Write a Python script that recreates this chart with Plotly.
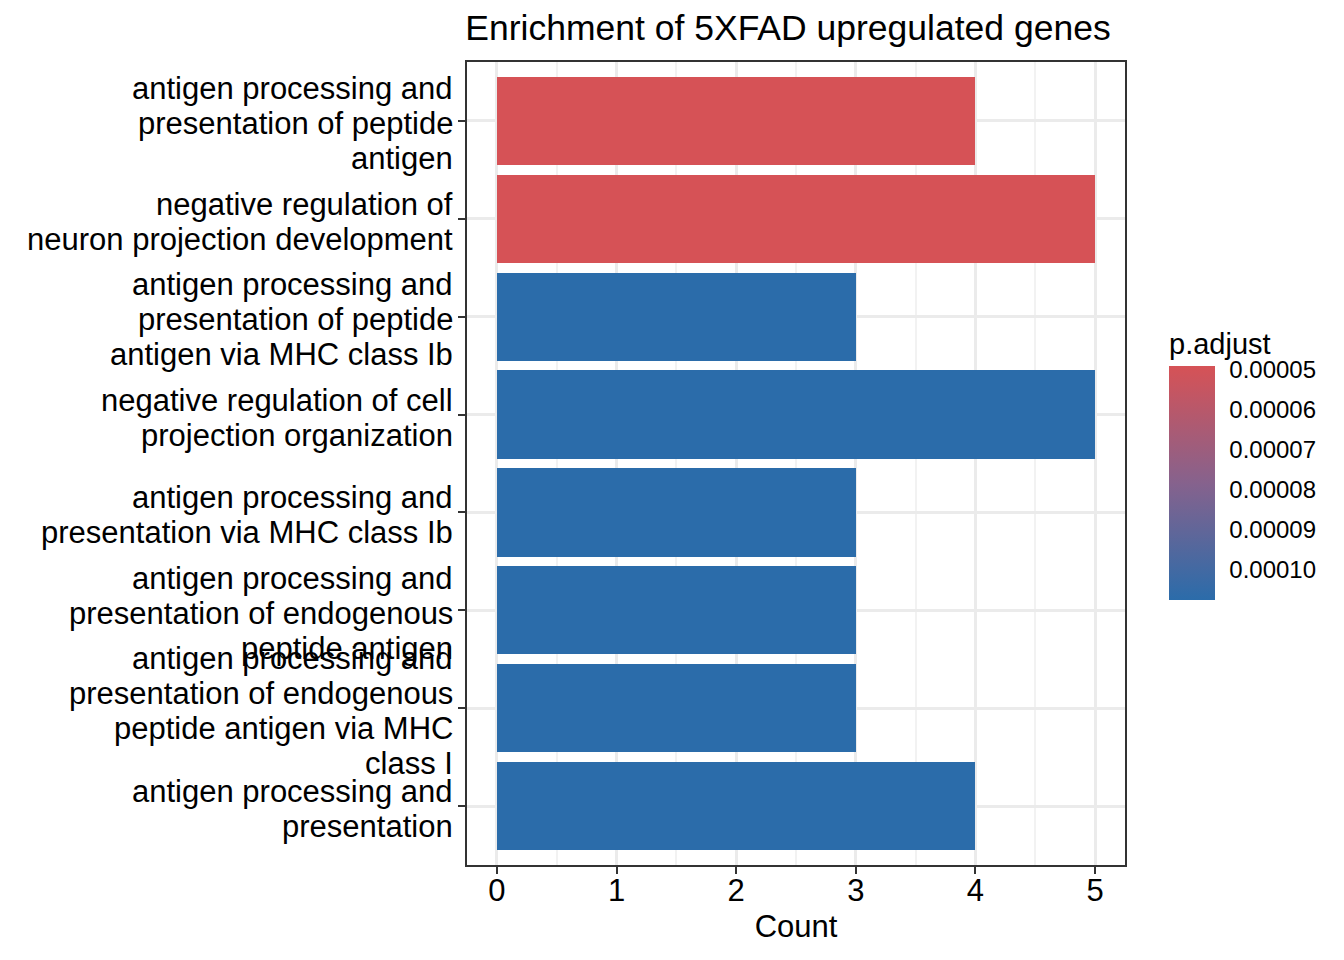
import plotly.graph_objects as go

# Data (bottom -> top order as drawn)
terms = [
    "antigen processing and\npresentation",
    "antigen processing and\npresentation of endogenous\npeptide antigen via MHC\nclass I",
    "antigen processing and\npresentation of endogenous\npeptide antigen",
    "antigen processing and\npresentation via MHC class Ib",
    "negative regulation of cell\nprojection organization",
    "antigen processing and\npresentation of peptide\nantigen via MHC class Ib",
    "negative regulation of\nneuron projection development",
    "antigen processing and\npresentation of peptide\nantigen",
]
counts = [4, 3, 3, 3, 5, 3, 5, 4]
p_adjust = [1.076e-4, 1.076e-4, 1.076e-4, 1.076e-4, 1.076e-4, 1.076e-4, 4.9e-5, 4.9e-5]
cbar_ticks = [5e-5, 6e-5, 7e-5, 8e-5, 9e-5, 1e-4]

FONT = "Liberation Sans, Arial, Helvetica, sans-serif"
idx = list(range(len(terms)))

# colour scale reversed like ggplot legend: small p (red) on top
neg_p = [-v for v in p_adjust]

fig = go.Figure()
fig.add_trace(go.Bar(
    x=counts, y=idx, orientation="h", width=0.9,
    marker=dict(color=neg_p, coloraxis="coloraxis", line=dict(width=0)),
    hovertext=[t.replace("\n", " ") for t in terms],
))

# y labels as multi-line annotations (ggplot-like line spacing)
LINE = 35
for i, t in enumerate(terms):
    lines = t.split("\n")
    n = len(lines)
    for j, ln in enumerate(lines):
        fig.add_annotation(
            x=0, xref="paper", y=i, yref="y", text=ln, showarrow=False,
            xanchor="right", yanchor="middle", xshift=-12,
            yshift=((n - 1) / 2 - j) * LINE - 3,
            font=dict(family=FONT, size=31, color="black"),
        )

OFF = 8  # page offset of the plot div
fig.update_layout(
    width=1344, height=960,
    paper_bgcolor="white", plot_bgcolor="white",
    margin=dict(l=467 - OFF, r=219 + OFF, t=62 - OFF, b=95 + OFF),
    font=dict(family=FONT, color="black"),
    showlegend=False,
    title=dict(text="Enrichment of 5XFAD upregulated genes", x=(788 - OFF) / 1344, xref="container",
               xanchor="center", y=1 - (28 - OFF) / 960, yref="container", yanchor="middle",
               font=dict(size=35.5, color="black", family=FONT)),
    bargap=0,
    coloraxis=dict(
        cmin=min(neg_p), cmax=max(neg_p),
        colorscale=[[0, "#2B6CAA"], [0.5, "#86628D"], [1, "#D65256"]],
        colorbar=dict(
            title=dict(text="p.adjust", side="top", font=dict(size=29, color="black", family=FONT)),
            tickvals=[-v for v in cbar_ticks], ticktext=[f"{v:.5f}" for v in cbar_ticks],
            tickfont=dict(size=24, color="black", family=FONT),
            ticks="outside", ticklen=10, tickcolor="white", tickwidth=1,
            thickness=46, thicknessmode="pixels",
            len=271, lenmode="pixels",
            x=(1169 - 467) / 658, xanchor="left", xpad=0,
            y=(865 - 464.5) / 803, yanchor="middle", ypad=0,
            outlinewidth=0,
        ),
    ),
)

fig.update_xaxes(
    range=[-0.25, 5.25], dtick=1, tick0=0,
    showgrid=True, gridcolor="#EBEBEB", gridwidth=3,
    minor=dict(showgrid=True, gridcolor="#F2F2F2", gridwidth=1.5, dtick=0.5),
    zeroline=False,
    showline=True, mirror=True, linecolor="#333333", linewidth=2,
    ticks="outside", ticklen=7, tickwidth=2, tickcolor="#333333",
    ticklabelstandoff=-10,
    tickfont=dict(size=31, color="black", family=FONT),
    title=dict(text="Count", font=dict(size=31, color="black", family=FONT), standoff=8),
)
fig.update_yaxes(
    range=[-0.6, len(terms) - 0.4], tickvals=idx, showticklabels=False,
    showgrid=True, gridcolor="#EBEBEB", gridwidth=3, zeroline=False,
    showline=True, mirror=True, linecolor="#333333", linewidth=2,
    ticks="outside", ticklen=7, tickwidth=2, tickcolor="#333333",
)

fig.write_html("out.html")
